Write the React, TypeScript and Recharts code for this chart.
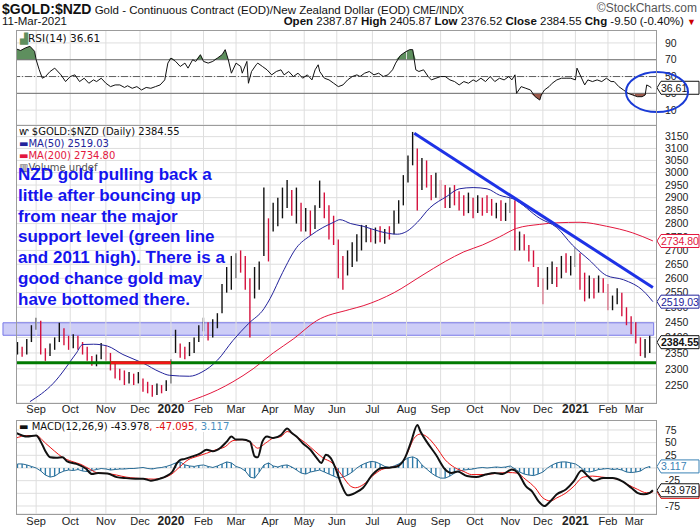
import React from 'react'
import {
  ComposedChart, Bar, Line, Area, XAxis, YAxis, CartesianGrid,
  ReferenceLine, ReferenceArea, ReferenceDot, Cell
} from 'recharts'

const FONT = '"Liberation Sans", Arial, sans-serif'
const LEG = '"DejaVu Sans", Verdana, sans-serif'

// x axis: trading-day index, 0 = mid Aug 2019, 410 = 11 Mar 2021
const X_DOMAIN = [0, 413]
const monthTicks = [13, 35, 58, 80, 100, 121, 142, 164, 186, 207, 230, 252, 274, 296, 319, 340, 361, 382, 399]
const monthLabels = ['Sep', 'Oct', 'Nov', 'Dec', '2020', 'Feb', 'Mar', 'Apr', 'May', 'Jun', 'Jul', 'Aug', 'Sep', 'Oct', 'Nov', 'Dec', '2021', 'Feb', 'Mar']

// price bars, one every 3 trading days starting at day 1
const priceHigh = [
  2385, 2370, 2395, 2440, 2465, 2455, 2365, 2380, 2400, 2448,
  2430, 2405, 2410, 2405, 2385, 2370, 2340, 2345, 2382, 2375,
  2350, 2315, 2300, 2295, 2290, 2285, 2290, 2270, 2260, 2250,
  2255, 2250, 2265, 2330, 2425, 2380, 2370, 2385, 2400, 2440,
  2465, 2450, 2460, 2480, 2580, 2640, 2680, 2690, 2700, 2680,
  2600, 2640, 2660, 2940, 2820, 2880, 2900, 2940, 2970, 2930,
  2940, 2880, 2860, 2850, 2870, 2968, 2920, 2870, 2830, 2740,
  2680, 2700, 2730, 2760, 2795, 2795, 2780, 2785, 2790, 2780,
  2790, 2850, 2890, 2990, 3070, 3170, 3100, 3060, 3050, 2990,
  3000, 2970, 2950, 2940, 2950, 2925, 2910, 2920, 2900, 2910,
  2900, 2910, 2895, 2880, 2890, 2880, 2900, 2890, 2770, 2760,
  2720, 2700, 2640, 2600, 2640, 2660, 2640, 2680, 2690, 2680,
  2710, 2690, 2620, 2610, 2600, 2610, 2600, 2580, 2540, 2565,
  2550, 2500, 2470, 2450, 2400, 2395, 2405,
]
const priceLow = [
  2345, 2338, 2345, 2385, 2425, 2345, 2325, 2340, 2360, 2385,
  2375, 2360, 2365, 2360, 2345, 2325, 2310, 2308, 2330, 2325,
  2295, 2270, 2265, 2250, 2255, 2250, 2255, 2230, 2225, 2215,
  2220, 2225, 2232, 2255, 2350, 2335, 2330, 2340, 2350, 2385,
  2420, 2390, 2400, 2430, 2480, 2550, 2560, 2600, 2620, 2560,
  2400, 2530, 2560, 2680, 2660, 2770, 2790, 2820, 2860, 2830,
  2800, 2770, 2770, 2755, 2780, 2860, 2820, 2740, 2720, 2600,
  2560, 2610, 2640, 2660, 2700, 2730, 2730, 2725, 2730, 2725,
  2740, 2760, 2800, 2870, 2960, 3030, 2850, 2930, 2940, 2890,
  2900, 2890, 2860, 2860, 2870, 2850, 2830, 2840, 2820, 2840,
  2830, 2840, 2830, 2820, 2810, 2810, 2840, 2700, 2700, 2700,
  2660, 2640, 2570, 2510, 2560, 2580, 2570, 2600, 2620, 2610,
  2640, 2560, 2520, 2530, 2530, 2550, 2550, 2490, 2490, 2510,
  2470, 2440, 2410, 2380, 2340, 2335, 2350,
]
const priceClose = [
  2360, 2345, 2390, 2430, 2450, 2360, 2340, 2370, 2390, 2430,
  2395, 2385, 2400, 2375, 2355, 2335, 2315, 2330, 2365, 2350,
  2305, 2285, 2280, 2265, 2280, 2260, 2275, 2245, 2235, 2230,
  2240, 2235, 2258, 2320, 2375, 2350, 2345, 2370, 2390, 2430,
  2450, 2410, 2440, 2470, 2560, 2600, 2640, 2660, 2650, 2580,
  2520, 2620, 2640, 2880, 2700, 2850, 2870, 2900, 2930, 2860,
  2900, 2800, 2820, 2790, 2850, 2940, 2850, 2780, 2760, 2640,
  2600, 2680, 2700, 2740, 2760, 2770, 2750, 2760, 2755, 2770,
  2760, 2830, 2870, 2970, 3050, 3110, 2950, 3020, 2990, 2940,
  2960, 2930, 2900, 2910, 2890, 2880, 2860, 2890, 2850, 2880,
  2870, 2860, 2850, 2870, 2830, 2860, 2880, 2720, 2740, 2720,
  2680, 2660, 2590, 2530, 2620, 2640, 2600, 2660, 2650, 2660,
  2690, 2600, 2560, 2590, 2560, 2580, 2570, 2510, 2530, 2550,
  2490, 2460, 2440, 2400, 2360, 2380, 2385,
]

const ma50Days = [9, 24, 39, 43, 50, 59, 69, 82, 93, 99, 112, 120, 130, 140, 150, 160, 164, 172, 181, 190, 198, 205, 209, 216, 224, 235, 246, 252, 259, 267, 278, 286, 295, 304, 312, 321, 338, 349, 359, 370, 381, 392, 405, 411]
const ma50Values = [2200, 2255, 2350, 2377, 2378, 2372, 2345, 2318, 2290, 2280, 2277, 2290, 2327, 2390, 2445, 2495, 2530, 2620, 2710, 2755, 2785, 2805, 2815, 2800, 2790, 2770, 2760, 2770, 2805, 2860, 2905, 2935, 2940, 2935, 2910, 2895, 2820, 2785, 2720, 2665, 2610, 2595, 2555, 2519]

const ma200Days = [111, 130, 140, 153, 166, 179, 194, 215, 224, 244, 262, 277, 289, 301, 312, 323, 338, 349, 364, 381, 398, 411]
const ma200Values = [2200, 2235, 2260, 2300, 2350, 2395, 2455, 2492, 2505, 2550, 2610, 2660, 2695, 2720, 2750, 2782, 2797, 2803, 2805, 2790, 2765, 2735]

const priceTicks = [2250, 2300, 2350, 2400, 2450, 2500, 2550, 2600, 2650, 2700, 2750, 2800, 2850, 2900, 2950, 3000, 3050, 3100, 3150]

const rsiDays = [
  0, 3, 6, 9, 12, 13, 15, 17, 19, 22, 25, 29, 32, 35, 38, 41, 44, 47, 50, 52,
  55, 58, 61, 64, 67, 70, 72, 75, 78, 81, 84, 87, 90, 93, 96, 98, 100, 103, 106, 109,
  111, 114, 116, 119, 121, 124, 127, 130, 133, 135, 137, 139, 142, 145, 146, 149, 150, 152, 155, 156,
  159, 162, 165, 168, 171, 173, 176, 179, 182, 185, 188, 191, 193, 195, 196, 199, 202, 205, 208, 211,
  214, 217, 220, 222, 225, 228, 231, 234, 237, 240, 243, 245, 248, 251, 254, 256, 258, 260, 263, 266,
  268, 271, 274, 277, 280, 283, 286, 289, 292, 295, 297, 300, 303, 306, 309, 312, 315, 318, 320, 322,
  323, 326, 329, 332, 335, 338, 339, 341, 344, 346, 349, 352, 355, 358, 361, 362, 364, 367, 369, 372,
  375, 378, 381, 384, 386, 389, 392, 395, 398, 401, 404, 406, 407, 409, 410,
]
const rsiValues = [
  83, 81, 84, 86, 80, 70, 58, 48, 50, 56, 60, 52, 44, 50, 52, 44, 48, 42, 46, 44,
  48, 42, 38, 40, 40, 37, 39, 36, 38, 34, 37, 36, 38, 40, 46, 66, 72, 68, 62, 66,
  60, 70, 68, 76, 68, 66, 68, 72, 76, 82, 70, 54, 66, 62, 54, 68, 42, 56, 64, 66,
  62, 58, 52, 56, 58, 52, 56, 50, 54, 48, 52, 46, 58, 64, 56, 48, 46, 42, 38, 40,
  46, 50, 52, 50, 54, 56, 52, 54, 50, 52, 58, 66, 75, 79, 82, 82, 58, 56, 58, 50,
  46, 48, 50, 50, 46, 44, 40, 44, 42, 46, 44, 48, 44, 50, 44, 48, 46, 50, 46, 52,
  30, 38, 36, 34, 26, 22, 28, 34, 38, 42, 46, 48, 48, 48, 46, 60, 52, 40, 46, 44,
  46, 44, 48, 44, 44, 38, 34, 30, 28, 26, 26, 28, 40, 38, 36.61,
]

const macdDays = [0, 4, 7, 13, 16, 19, 22, 26, 30, 33, 39, 45, 49, 53, 59, 65, 71, 77, 82, 87, 93, 97, 101, 104, 106, 109, 114, 119, 123, 127, 132, 136, 139, 142, 146, 151, 154, 156, 159, 162, 166, 171, 175, 178, 181, 185, 190, 194, 197, 200, 203, 207, 210, 214, 219, 224, 230, 236, 242, 246, 251, 255, 259, 261, 265, 271, 277, 281, 285, 291, 297, 303, 309, 314, 320, 324, 329, 333, 337, 341, 345, 349, 355, 360, 365, 369, 373, 379, 385, 391, 397, 401, 405, 409, 411]
const macdValues = [69, 64, 62, 64, 52, 33, 21, 20, 21, 13, 8, -1, -12, -10, -11, -18, -20, -21, -21, -25, -21, -16, -7, 10, 16, 18, 23, 29, 36, 33, 40, 52, 62, 56, 56, 52, 23, 21, 52, 62, 59, 65, 78, 69, 62, 49, 36, 20, 10, 26, 20, -7, -33, -54, -49, -39, -13, 0, 1, 3, 20, 52, 85, 72, 52, 26, -3, -10, -7, -16, -18, -13, -10, -12, -3, -10, -36, -46, -65, -75, -65, -52, -42, -26, -5, -16, -25, -20, -20, -26, -39, -49, -52, -49, -44]

const signalDays = [0, 7, 13, 19, 25, 30, 36, 42, 48, 53, 59, 65, 71, 77, 82, 89, 94, 100, 106, 111, 117, 123, 129, 135, 140, 146, 152, 156, 161, 166, 171, 175, 181, 187, 193, 198, 204, 210, 216, 219, 224, 230, 236, 242, 248, 252, 257, 261, 265, 271, 277, 283, 289, 294, 300, 306, 312, 318, 323, 329, 335, 340, 345, 349, 355, 360, 366, 372, 378, 384, 389, 395, 401, 407, 411]
const signalValues = [59, 64, 64, 49, 33, 21, 13, 7, -3, -10, -11, -14, -18, -20, -21, -22, -20, -13, 3, 16, 23, 29, 36, 42, 54, 56, 49, 39, 49, 59, 62, 72, 62, 49, 33, 20, 10, -13, -36, -39, -33, -16, -3, 1, 7, 26, 59, 67, 62, 42, 16, 1, -7, -13, -13, -12, -10, -9, -10, -23, -39, -59, -65, -59, -49, -36, -18, -16, -18, -20, -23, -33, -42, -49, -47]

// MACD histogram, same days as the price bars
const histValues = [
  8, 8, 6, 3, 0, -6, -14, -18, -16, -10,
  -6, -4, -5, -3, -6, -7, -5, -3, -1, -2,
  -4, -3, -2, -2, -1, -1, 0, 1, -1, -2,
  0, 1, 3, 6, 10, 12, 6, 4, 3, 5,
  6, 3, 1, 4, 8, 12, 10, 3, 0, -6,
  -18, -20, -8, 6, 10, 4, 2, 5, 6, 2,
  -4, -10, -12, -8, -6, -4, -8, -12, -16, -20,
  -18, -14, -8, 0, 6, 10, 13, 12, 8, 3,
  1, 4, 8, 14, 20, 22, 18, 6, -2, -10,
  -16, -20, -20, -16, -10, -6, -4, -3, -2, 0,
  1, 0, 1, 2, 1, 2, 4, -2, -8, -12,
  -14, -15, -12, -8, 0, 6, 10, 12, 12, 10,
  8, 2, -6, -8, -6, -3, -2, -1, -3, -2,
  -4, -8, -9, -8, -6, 0, 3,
]

const UP = '#111111'
const DOWN = '#d4103c'
const MA50C = '#23239b'
const MA200C = '#e3173e'
const HISTC = '#2f7aa8'
const GRID = '#dedede'

const RSI_DOMAIN = [-7.7, 105.4]
const PRICE_DOMAIN = [2196, 3200]
const MACD_DOMAIN = [-90.8, 94.7]

const tag = (text: string, color: string, bold = false) => (props: any) => {
  const { cx, cy } = props
  const x0 = cx + 1
  const pts = `${x0},${cy} ${x0 + 4},${cy - 6.5} ${699},${cy - 6.5} ${699},${cy + 6.5} ${x0 + 4},${cy + 6.5}`
  return (
    <g>
      <polygon points={pts} fill="#fff" stroke={color} strokeWidth={1} />
      <text x={x0 + 4} y={cy + 4} fontSize={10.5} fontFamily={FONT} fontWeight={bold ? 700 : 400} fill={color}>{text}</text>
    </g>
  )
}

const MonthTick = (dy: number) => ({ x, y, payload }: any) => {
  const label = monthLabels[monthTicks.indexOf(payload.value)]
  const isYear = /^\d{4}$/.test(label)
  return (
    <text x={x} y={y + dy} textAnchor="middle" fontSize={isYear ? 12 : 11}
      fontWeight={isYear ? 700 : 400} fontFamily={FONT} fill="#222">{label}</text>
  )
}

const axisTick = { fontSize: 10.5, fontFamily: FONT, fill: '#222' }

// transparent layer with the same scales, so value tags sit above the axis labels
function TagLayer({ top, height, bottom, domain, log, children }: any) {
  return (
    <div style={{ position: 'absolute', left: 0, top }}>
      <ComposedChart width={700} height={height} data={[{ t: 0 }]} margin={{ top: 0, right: 44, bottom, left: 16 }}>
        <XAxis type="number" dataKey="t" domain={X_DOMAIN} allowDataOverflow hide />
        <YAxis hide domain={domain} allowDataOverflow scale={log ? 'log' : 'auto'} />
        {children}
      </ComposedChart>
    </div>
  )
}

export default function App() {
  const bars = priceHigh.map((h, i) => ({
    t: 1 + i * 3,
    range: [priceLow[i], h],
    close: priceClose[i],
    hist: histValues[i],
  }))
  const ma50 = ma50Days.map((t, i) => ({ t, v: ma50Values[i] }))
  const ma200 = ma200Days.map((t, i) => ({ t, v: ma200Values[i] }))
  const rsi = rsiDays.map((t, i) => ({
    t,
    v: rsiValues[i],
    over: [70, Math.max(70, rsiValues[i])],
    under: [Math.min(30, rsiValues[i]), 30],
  }))
  const macd = macdDays.map((t, i) => ({ t, v: macdValues[i] }))
  const signal = signalDays.map((t, i) => ({ t, v: signalValues[i] }))

  const border = (top: number, height: number) => (
    <div style={{ position: 'absolute', left: 16, top, width: 641, height: height + 1, boxSizing: 'border-box', border: '1px solid #9c9c9c', pointerEvents: 'none' }} />
  )

  return (
    <div style={{ position: 'absolute', left: 0, top: 0, width: 700, height: 530, background: '#fff', overflow: 'hidden', fontFamily: FONT }}>
      {/* header */}
      <div style={{ position: 'absolute', left: 2, top: 0, whiteSpace: 'nowrap', color: '#111' }}>
        <span style={{ fontSize: 14, fontWeight: 700 }}>$GOLD:$NZD</span>
        <span style={{ fontSize: 11.5 }}> Gold - Continuous Contract (EOD)/New Zealand Dollar (EOD)</span>
        <span style={{ fontSize: 10.5 }}> CME/INDX</span>
      </div>
      <div style={{ position: 'absolute', right: 3, top: 1, fontSize: 12, color: '#555' }}>©StockCharts.com</div>
      <div style={{ position: 'absolute', left: 2, top: 15, fontSize: 11.5, color: '#111' }}>11-Mar-2021</div>
      <div style={{ position: 'absolute', right: 4, top: 15, fontSize: 11.5, color: '#111', whiteSpace: 'nowrap' }}>
        <b>Open</b> 2387.87 <b>High</b> 2405.87 <b>Low</b> 2376.52 <b>Close</b> 2384.55 <b>Chg</b> -9.50 (-0.40%) <span style={{ color: '#c00', fontSize: 9 }}>▼</span>
      </div>

      {/* RSI panel */}
      <div style={{ position: 'absolute', left: 0, top: 30 }}>
        <ComposedChart width={700} height={95} data={rsi} margin={{ top: 0, right: 0, bottom: 0, left: 16 }}>
          <CartesianGrid stroke={GRID} vertical={false} />
          <XAxis type="number" dataKey="t" domain={X_DOMAIN} allowDataOverflow ticks={monthTicks} hide />
          <YAxis orientation="right" width={44} domain={RSI_DOMAIN} allowDataOverflow ticks={[10, 30, 50, 70, 90]} interval={0}
            tick={axisTick} tickLine={false} axisLine={false} tickMargin={3} />
          {monthTicks.map(m => <ReferenceLine key={m} x={m} stroke={GRID} />)}
          <ReferenceLine y={70} stroke="#707070" />
          <ReferenceLine y={30} stroke="#707070" />
          <ReferenceLine y={50} stroke="#606060" strokeDasharray="7 2 1 2" />
          <Area dataKey="over" type="linear" fill="#5e8f5e" fillOpacity={1} stroke="none" isAnimationActive={false} />
          <Area dataKey="under" type="linear" fill="#9c5a4c" fillOpacity={1} stroke="none" isAnimationActive={false} />
          <Line dataKey="v" type="linear" stroke="#111" strokeWidth={1} dot={false} isAnimationActive={false} />
        </ComposedChart>
      </div>
      <TagLayer top={30} height={95} bottom={0} domain={RSI_DOMAIN}>
        <ReferenceDot x={413} y={36.61} r={0} ifOverflow="visible" shape={tag('36.61', '#111')} />
        <ReferenceDot x={413} y={31.5} r={0} ifOverflow="visible"
          shape={(p: any) => <ellipse cx={p.cx + 1} cy={p.cy} rx={31} ry={20} fill="none" stroke="#1a3bd6" strokeWidth={2} />} />
      </TagLayer>
      <div style={{ position: 'absolute', left: 20, top: 32, fontSize: 10.5, fontFamily: LEG, color: '#111' }}>
        <span style={{ color: '#5e8f5e' }}>▟</span>RSI(14) 36.61
      </div>

      {/* price panel */}
      <div style={{ position: 'absolute', left: 0, top: 125 }}>
        <ComposedChart width={700} height={295} data={bars} margin={{ top: 0, right: 0, bottom: 0, left: 16 }}>
          <CartesianGrid stroke={GRID} vertical={false} />
          <XAxis type="number" dataKey="t" domain={X_DOMAIN} allowDataOverflow ticks={monthTicks} interval={0} height={17}
            axisLine={false} tickLine={false} tickSize={0} tickMargin={0} tick={MonthTick(10)} />
          <YAxis orientation="right" width={44} scale="log" domain={PRICE_DOMAIN} allowDataOverflow ticks={priceTicks} interval={0}
            tick={axisTick} tickLine={false} axisLine={false} tickMargin={3} />
          {monthTicks.map(m => <ReferenceLine key={m} x={m} stroke={GRID} />)}
          <Bar dataKey="range" barSize={4} isAnimationActive={false}>
            {bars.map((b, i) => (
              <Cell key={i} fill={i > 0 && b.close < bars[i - 1].close ? DOWN : UP} />
            ))}
          </Bar>
          <Line data={ma200} dataKey="v" type="monotone" stroke={MA200C} strokeWidth={1} dot={false} isAnimationActive={false} />
          <Line data={ma50} dataKey="v" type="monotone" stroke={MA50C} strokeWidth={1} dot={false} isAnimationActive={false} />
          <ReferenceArea x1={-8.4} x2={411.5} y1={2407} y2={2448} ifOverflow="visible"
            fill="#5a5ae6" fillOpacity={0.3} stroke="#7878e8" strokeWidth={1} />
          <ReferenceLine segment={[{ x: 0, y: 2319 }, { x: 413, y: 2319 }]} stroke="#007a00" strokeWidth={3} />
          <ReferenceLine segment={[{ x: 61, y: 2319 }, { x: 100, y: 2319 }]} stroke="#f01414" strokeWidth={3} />
          <ReferenceLine segment={[{ x: 257, y: 3164 }, { x: 411, y: 2568 }]} stroke="#1e32e6" strokeWidth={3} />
        </ComposedChart>
      </div>
      <TagLayer top={125} height={295} bottom={17} domain={PRICE_DOMAIN} log>
        <ReferenceDot x={413} y={2734.8} r={0} ifOverflow="visible" shape={tag('2734.80', MA200C)} />
        <ReferenceDot x={413} y={2519.03} r={0} ifOverflow="visible" shape={tag('2519.03', MA50C)} />
        <ReferenceDot x={413} y={2384.55} r={0} ifOverflow="visible" shape={tag('2384.55', '#111', true)} />
      </TagLayer>
      <div style={{ position: 'absolute', left: 19, top: 126, fontSize: 10, lineHeight: '12px', fontFamily: LEG, whiteSpace: 'nowrap' }}>
        <div style={{ color: '#111' }}>ⱳ $GOLD:$NZD (Daily) 2384.55</div>
        <div style={{ color: MA50C }}>▬MA(50) 2519.03</div>
        <div style={{ color: MA200C }}>▬MA(200) 2734.80</div>
        <div style={{ color: '#555' }}>▥Volume undef</div>
      </div>
      <div style={{ position: 'absolute', left: 18, top: 165, fontSize: 17, lineHeight: '20.8px', fontWeight: 700, color: '#1414ee', whiteSpace: 'nowrap' }}>
        <div>NZD gold pulling back a</div>
        <div>little after bouncing up</div>
        <div>from near the major</div>
        <div>support level (green line</div>
        <div>and 2011 high). There is a</div>
        <div>good chance gold may</div>
        <div>have bottomed there.</div>
      </div>

      {/* MACD panel */}
      <div style={{ position: 'absolute', left: 0, top: 420 }}>
        <ComposedChart width={700} height={110} data={bars} margin={{ top: 0, right: 0, bottom: 0, left: 16 }}>
          <CartesianGrid stroke={GRID} vertical={false} />
          <XAxis type="number" dataKey="t" domain={X_DOMAIN} allowDataOverflow ticks={monthTicks} interval={0} height={16}
            axisLine={false} tickLine={false} tickSize={0} tickMargin={0} tick={MonthTick(11)} />
          <YAxis orientation="right" width={44} domain={MACD_DOMAIN} allowDataOverflow ticks={[-75, -50, -25, 0, 25, 50, 75]} interval={0}
            tick={axisTick} tickFormatter={(v: number) => (v === 0 || v === -50 ? '' : String(v))}
            tickLine={false} axisLine={false} tickMargin={3} />
          {monthTicks.map(m => <ReferenceLine key={m} x={m} stroke={GRID} />)}
          <Bar dataKey="hist" fill={HISTC} barSize={3} isAnimationActive={false} />
          <Line dataKey="hist" type="linear" stroke="#2a6c95" strokeWidth={1} dot={false} isAnimationActive={false} />
          <Line data={signal} dataKey="v" type="monotone" stroke="#ee1111" strokeWidth={1} dot={false} isAnimationActive={false} />
          <Line data={macd} dataKey="v" type="monotone" stroke="#111" strokeWidth={2} dot={false} isAnimationActive={false} />
        </ComposedChart>
      </div>
      <TagLayer top={420} height={110} bottom={16} domain={MACD_DOMAIN}>
        <ReferenceDot x={413} y={3.117} r={0} ifOverflow="visible" shape={tag('3.117', '#3a82b5')} />
        <ReferenceDot x={413} y={-47.095} r={0} ifOverflow="visible" shape={tag('-47.095', '#e01010')} />
        <ReferenceDot x={413} y={-43.978} r={0} ifOverflow="visible" shape={tag('-43.978', '#111')} />
      </TagLayer>
      <div style={{ position: 'absolute', left: 19, top: 421, fontSize: 10, fontFamily: LEG, whiteSpace: 'nowrap', background: '#fff' }}>
        <span style={{ color: '#111' }}>▬ MACD(12,26,9) -43.978</span>
        <span style={{ color: '#e01010' }}>, -47.095</span>
        <span style={{ color: '#4a90c0' }}>, 3.117</span>
      </div>

      {border(30, 95)}
      {border(125, 278)}
      {border(420, 94)}
    </div>
  )
}
